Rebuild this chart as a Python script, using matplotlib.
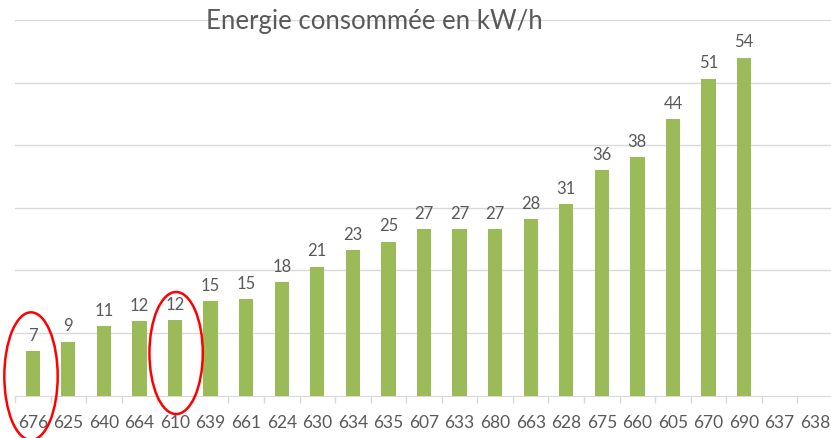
import numpy as np
import matplotlib
matplotlib.use("Agg")
import matplotlib.pyplot as plt
from matplotlib.patches import Ellipse

categories = ["676", "625", "640", "664", "610", "639", "661", "624", "630", "634", "635",
              "607", "633", "680", "663", "628", "675", "660", "605", "670", "690", "637", "638"]
values = [7.05, 8.6, 11.05, 11.9, 12.05, 15.1, 15.4, 18.1, 20.6, 23.2, 24.6,
          26.6, 26.6, 26.6, 28.2, 30.6, 36.0, 38.1, 44.2, 50.6, 54.0, np.nan, np.nan]

plt.rcParams['font.family'] = ['Lato', 'DejaVu Sans']
grey = "#595959"

fig = plt.figure(figsize=(8.31, 4.39), dpi=100)
ax = fig.add_axes([15 / 831, 0.0966, 818 / 831, 0.8556])

x = np.arange(len(categories))
bars = ax.bar(x, values, width=0.4, color="#9BBB59", zorder=3)
labels = ["" if np.isnan(v) else "%.0f" % v for v in values]
ax.bar_label(bars, labels=labels, padding=6, fontsize=12, color=grey)

ax.set_xlim(-0.5, len(categories) - 0.5)
ax.set_ylim(0, 60)
ax.set_yticks([10, 20, 30, 40, 50, 60])
ax.yaxis.grid(True, color="#D9D9D9", linewidth=1, zorder=0)
ax.tick_params(axis="y", left=False, labelleft=False)

ax.set_xticks(x)
ax.set_xticklabels(categories, fontsize=12.5, color=grey)
ax.set_xticks(np.arange(-0.5, len(categories)), minor=True)
ax.tick_params(axis="x", which="major", length=0, pad=13)
ax.tick_params(axis="x", which="minor", length=5, color="#D9D9D9", width=1)

for s in ["top", "right", "left"]:
    ax.spines[s].set_visible(False)
ax.spines["bottom"].set_color("#D9D9D9")

fig.text(0.451, 0.95, "Energie consommée en kW/h", ha="center", va="center",
         fontsize=18.5, color=grey)

# red circles around two bars
ax.add_patch(Ellipse((-0.05, 3.1), 1.5, 20.4, fill=False, edgecolor="red",
                     linewidth=1.8, clip_on=False, zorder=5))
ax.add_patch(Ellipse((4.03, 6.8), 1.5, 19.5, fill=False, edgecolor="red",
                     linewidth=1.8, clip_on=False, zorder=5))

fig.savefig("out.png", dpi=100)
